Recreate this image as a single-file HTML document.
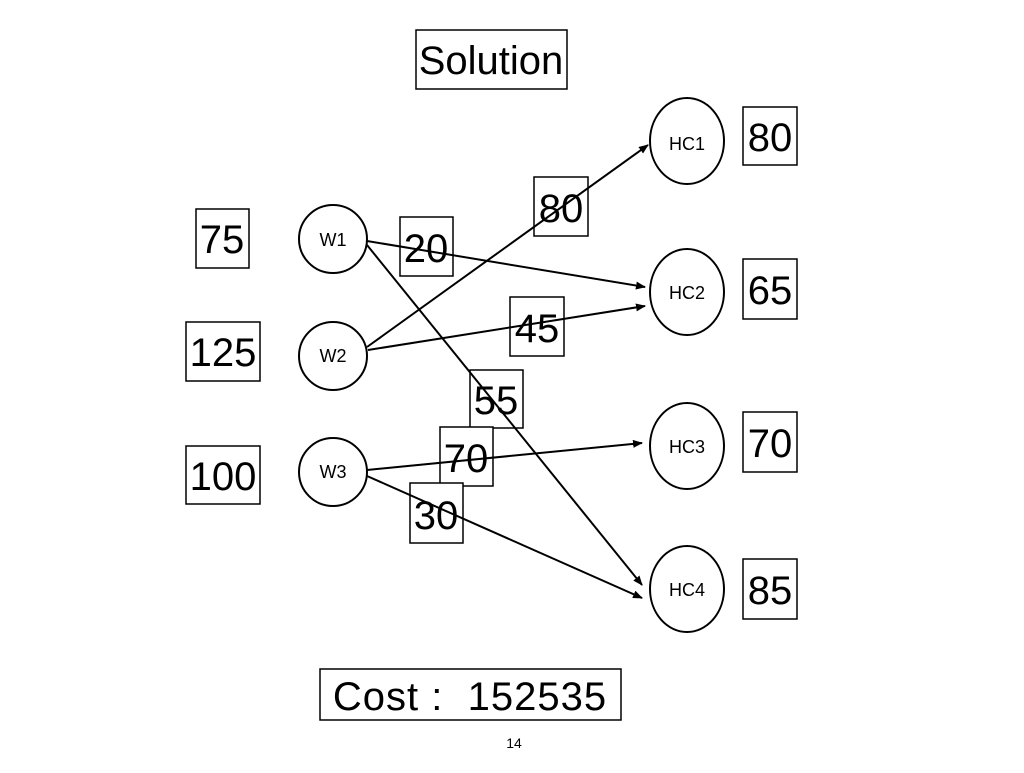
<!DOCTYPE html>
<html><head><style>
body{margin:0;background:#fff;}
svg text{font-family:"Liberation Sans",Arial,sans-serif;fill:#000;}
</style></head><body>
<svg width="1024" height="768" viewBox="0 0 1024 768" xmlns="http://www.w3.org/2000/svg">
<defs><marker id="a" markerWidth="10" markerHeight="8" refX="9" refY="4" orient="auto" markerUnits="userSpaceOnUse"><path d="M0,0 L10,4 L0,8 z" fill="#000"/></marker></defs>
<g fill="none" stroke="#000" stroke-width="2">
<ellipse cx="333" cy="239" rx="34" ry="34"/>
<ellipse cx="333" cy="356" rx="34" ry="34"/>
<ellipse cx="333" cy="472" rx="34" ry="34"/>
<ellipse cx="687" cy="141" rx="37" ry="43"/>
<ellipse cx="687" cy="292" rx="37" ry="43"/>
<ellipse cx="687" cy="446" rx="37" ry="43"/>
<ellipse cx="687" cy="589" rx="37" ry="43"/>
</g>
<g fill="#fff" stroke="#000" stroke-width="1.5">
<rect x="416" y="30" width="151" height="59"/>
<rect x="196" y="209" width="53" height="59"/>
<rect x="186" y="322" width="74" height="59"/>
<rect x="186" y="446" width="74" height="58"/>
<rect x="400" y="217" width="53" height="59"/>
<rect x="534" y="177" width="54" height="59"/>
<rect x="510" y="297" width="54" height="59"/>
<rect x="470" y="370" width="53" height="58"/>
<rect x="440" y="427" width="53" height="59"/>
<rect x="410" y="483" width="53" height="60"/>
<rect x="743" y="107" width="54" height="58"/>
<rect x="743" y="259" width="54" height="60"/>
<rect x="743" y="412" width="54" height="60"/>
<rect x="743" y="559" width="54" height="60"/>
<rect x="320" y="669" width="301" height="51"/>
</g>
<g stroke="#000" stroke-width="2" marker-end="url(#a)">
<line x1="367" y1="241" x2="645" y2="287"/>
<line x1="367" y1="245" x2="642" y2="585"/>
<line x1="367" y1="347" x2="648" y2="145"/>
<line x1="368" y1="350" x2="645" y2="306"/>
<line x1="367" y1="470" x2="642" y2="443"/>
<line x1="367" y1="476" x2="642" y2="598"/>
</g>
<g font-size="40" text-anchor="middle">
<text x="491" y="74">Solution</text>
<text x="222" y="253">75</text>
<text x="223" y="366">125</text>
<text x="223" y="490">100</text>
<text x="426" y="262">20</text>
<text x="561" y="222">80</text>
<text x="537" y="342">45</text>
<text x="496" y="414">55</text>
<text x="466" y="472">70</text>
<text x="436" y="529">30</text>
<text x="770" y="151">80</text>
<text x="770" y="304">65</text>
<text x="770" y="457">70</text>
<text x="770" y="604">85</text>
<text x="470" y="710" font-size="40" letter-spacing="1" xml:space="preserve">Cost :  152535</text>
</g>
<g font-size="18" text-anchor="middle" fill="#333">
<text x="333" y="246">W1</text>
<text x="333" y="362">W2</text>
<text x="333" y="478">W3</text>
<text x="687" y="150">HC1</text>
<text x="687" y="299">HC2</text>
<text x="687" y="453">HC3</text>
<text x="687" y="596">HC4</text>
</g>
<text x="514" y="748" font-size="14" text-anchor="middle">14</text>
</svg>
</body></html>
